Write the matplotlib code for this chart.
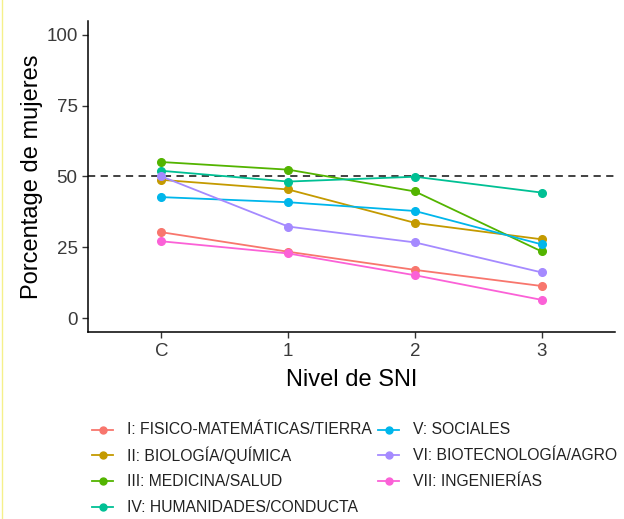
import matplotlib.pyplot as plt
from matplotlib.lines import Line2D

plt.rcParams['font.family'] = ['Liberation Sans', 'DejaVu Sans']

niveles = ["C", "1", "2", "3"]
areas = [
    "I: FISICO-MATEMÁTICAS/TIERRA",
    "II: BIOLOGÍA/QUÍMICA",
    "III: MEDICINA/SALUD",
    "IV: HUMANIDADES/CONDUCTA",
    "V: SOCIALES",
    "VI: BIOTECNOLOGÍA/AGRO",
    "VII: INGENIERÍAS",
]
fisico = [30.3, 23.4, 17.0, 11.3]
biologia = [48.8, 45.4, 33.6, 27.8]
medicina = [55.1, 52.4, 44.7, 23.5]
humanidades = [52.0, 48.2, 49.9, 44.3]
sociales = [42.7, 40.9, 37.8, 26.0]
biotec = [50.0, 32.3, 26.7, 16.1]
ingenierias = [27.1, 22.8, 15.1, 6.4]
series = [fisico, biologia, medicina, humanidades, sociales, biotec, ingenierias]
colores = ["#F8766D", "#C49A00", "#53B400", "#00C094", "#00B6EB", "#A58AFF", "#FB61D7"]

W, H = 624, 519
fig = plt.figure(figsize=(W / 100, H / 100), dpi=100)
ax = fig.add_axes([0.141, 0.360, 0.845, 0.600])

x = range(len(niveles))
ax.axhline(50, color="#333333", linestyle=(0, (4, 3)), linewidth=1.3, zorder=1)
for vals, col in zip(series, colores):
    ax.plot(x, vals, color=col, linewidth=1.3, marker="o", markersize=5.5, zorder=2)

ax.set_xlim(-0.58, 3.58)
ax.set_ylim(-5, 105)
ax.set_xticks(list(x))
ax.set_xticklabels(niveles)
ax.set_yticks([0, 25, 50, 75, 100])
ax.tick_params(labelsize=13.5, colors="#333333", length=4, width=1)
ax.tick_params(labelcolor="#3A3A3A")
for s in ["top", "right"]:
    ax.spines[s].set_visible(False)
for s in ["left", "bottom"]:
    ax.spines[s].set_linewidth(1.1)
ax.set_xlabel("Nivel de SNI", fontsize=17, labelpad=7)
ax.set_ylabel("Porcentage de mujeres", fontsize=17, labelpad=2)

# legend drawn by hand so rows line up across the two columns
col_x = [92, 378]
row_y = [430, 455, 481, 507]
for i, (area, col) in enumerate(zip(areas, colores)):
    c, r = divmod(i, 4)
    x0 = col_x[c]
    y0 = 1 - row_y[r] / H
    fig.add_artist(Line2D([x0 / W, (x0 + 21) / W], [y0, y0], color=col, linewidth=1.3))
    fig.add_artist(Line2D([(x0 + 10.5) / W], [y0], color=col, marker="o", markersize=5))
    fig.text((x0 + 35) / W, y0, area, fontsize=11.3, color="#222222", va="center", ha="left")

fig.add_artist(Line2D([0.003, 0.003], [0, 1], color="#F5F08A", linewidth=1))
fig.savefig("out.png", dpi=100)
